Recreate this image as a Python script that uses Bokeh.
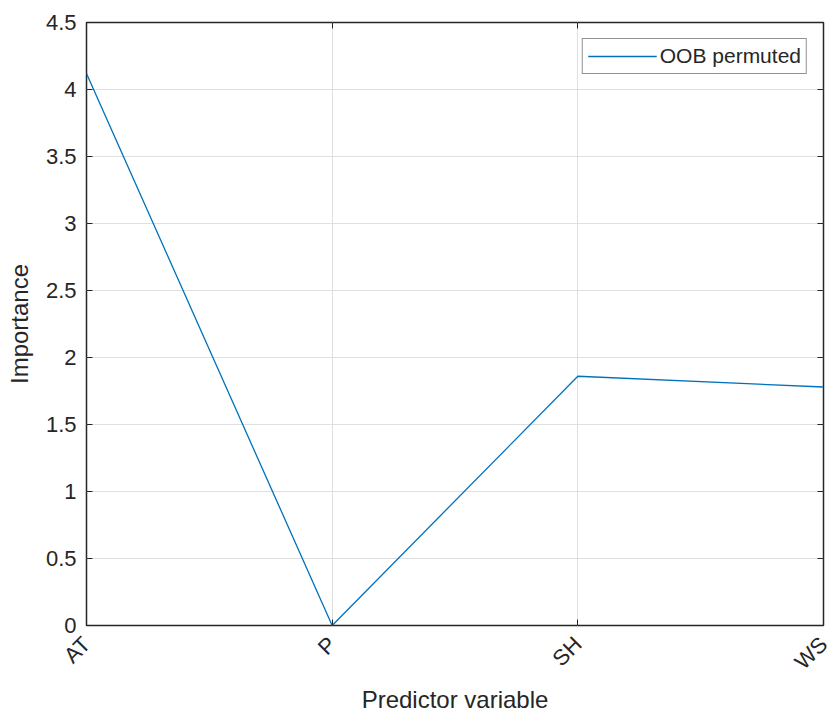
import math
from bokeh.plotting import figure
from bokeh.models import FixedTicker, Range1d, Legend, LegendItem, LinearAxis
from bokeh.embed import file_html
from bokeh.resources import INLINE

categories = ["AT", "P", "SH", "WS"]
importance = [4.12, 0.0, 1.86, 1.78]
y_ticks = [0, 0.5, 1, 1.5, 2, 2.5, 3, 3.5, 4, 4.5]
series_name = "OOB permuted"

xs = list(range(1, len(categories) + 1))

p = figure(width=838, height=716, output_backend="svg", toolbar_location=None,
           x_range=Range1d(1, 4), y_range=Range1d(0, 4.5),
           min_border_left=86, min_border_right=15, min_border_top=22, min_border_bottom=91)
p.background_fill_color = "white"
p.border_fill_color = "white"
p.outline_line_color = "#262626"
p.outline_line_width = 1.5

r = p.line(xs, importance, line_color="#0072BD", line_width=1.3)

font = "Liberation Sans"
dark = "#262626"
p.xaxis.ticker = FixedTicker(ticks=xs)
p.xaxis.major_label_overrides = {x: c for x, c in zip(xs, categories)}
p.xaxis.major_label_orientation = math.pi / 4
p.yaxis.ticker = FixedTicker(ticks=y_ticks)
p.yaxis.major_label_overrides = {0: "0", 1: "1", 2: "2", 3: "3", 4: "4"}

for ax in (p.xaxis[0], p.yaxis[0]):
    ax.axis_line_color = None
    ax.major_tick_in = 6
    ax.major_tick_out = 0
    ax.minor_tick_line_color = None
    ax.major_tick_line_color = dark
    ax.major_label_text_font = font
    ax.major_label_text_font_size = "22px"
    ax.major_label_text_color = dark
    ax.axis_label_text_font = font
    ax.axis_label_text_font_size = "24px"
    ax.axis_label_text_font_style = "normal"
    ax.axis_label_text_color = dark

p.xaxis.axis_label = "Predictor variable"
p.yaxis.axis_label = "Importance"
p.xaxis.major_label_standoff = 15
p.xaxis.axis_label_standoff = 0
p.yaxis.major_label_standoff = 10
p.yaxis.axis_label_standoff = 10

# box-style ticks on the top and right edges (no labels drawn)
for side, tk in (("right", y_ticks), ("above", xs)):
    a = LinearAxis(ticker=FixedTicker(ticks=tk), axis_line_color=None,
                   major_tick_in=6, major_tick_out=0, minor_tick_line_color=None,
                   major_tick_line_color=dark, major_label_text_font_size="1px",
                   major_label_text_color=None, major_label_standoff=0)
    p.add_layout(a, side)

p.xgrid.ticker = FixedTicker(ticks=xs)
p.ygrid.ticker = FixedTicker(ticks=y_ticks)
p.grid.grid_line_color = "#DFDFDF"
p.grid.grid_line_width = 1

legend = Legend(items=[LegendItem(label=series_name, renderers=[r])], location="top_right")
legend.border_line_color = dark
legend.border_line_width = 1
legend.label_text_font = font
legend.label_text_font_size = "21px"
legend.label_text_color = dark
legend.glyph_width = 69
legend.glyph_height = 24
legend.padding = 5
legend.margin = 16
legend.spacing = 0
legend.label_standoff = 3
legend.background_fill_alpha = 1
p.add_layout(legend)

open("out.html", "w").write(file_html(p, INLINE))
